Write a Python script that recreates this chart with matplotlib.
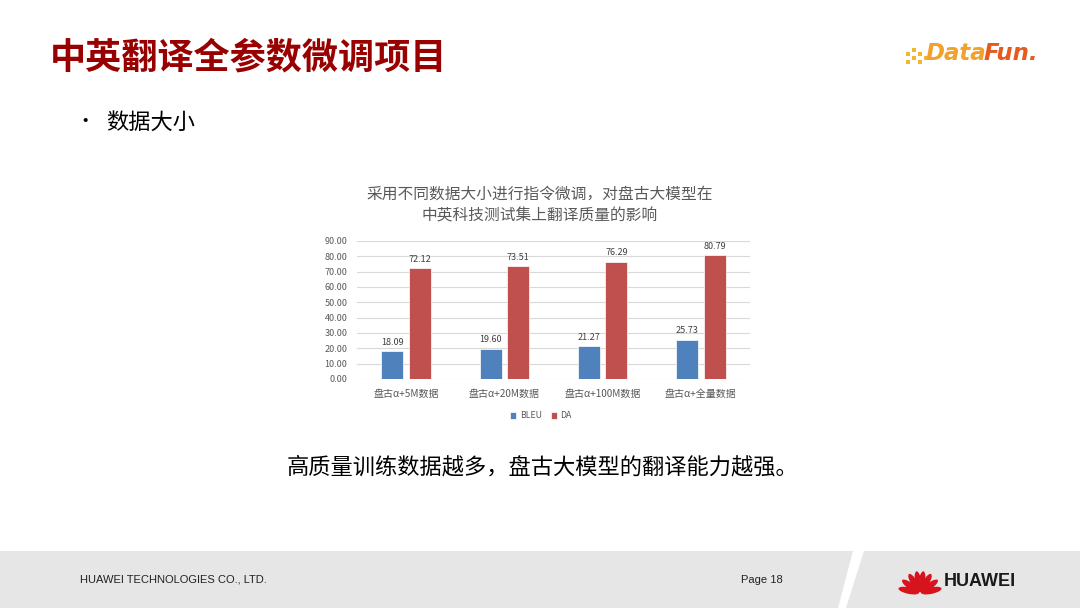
import matplotlib
matplotlib.use('Agg')
import matplotlib.pyplot as plt
from matplotlib.patches import Rectangle, Polygon, Ellipse
import numpy as np

plt.rcParams['font.family'] = ['Noto Sans CJK SC', 'DejaVu Sans']

# data
categories = ['盘古α+5M数据', '盘古α+20M数据', '盘古α+100M数据', '盘古α+全量数据']
bleu = [18.09, 19.60, 21.27, 25.73]
da = [72.12, 73.51, 76.29, 80.79]
series_names = ['BLEU', 'DA']
yticks = [0, 10, 20, 30, 40, 50, 60, 70, 80, 90]

BLUE = '#4F81BD'
RED = '#C0504D'
GRAY = '#595959'

fig = plt.figure(figsize=(10.8, 6.08), dpi=100)

# overlay in pixel coords for slide decoration
bg = fig.add_axes([0, 0, 1, 1])
bg.set_xlim(0, 1080)
bg.set_ylim(608, 0)
bg.axis('off')

# footer band
bg.add_patch(Rectangle((0, 551), 1080, 57, color='#E6E6E6', lw=0))
bg.add_patch(Polygon([(853, 551), (864, 551), (846, 608), (838, 608)], color='white', lw=0))

# huawei petals (fan opening upwards)
cx, cy = 920, 593
for ang in [-78, -54, -30, -9, 9, 30, 54, 78]:
    a = np.deg2rad(ang)
    r = 11.5
    ex = cx + r * np.sin(a)
    ey = cy - r * np.cos(a)
    bg.add_patch(Ellipse((ex, ey), 6.5, 21, angle=ang, color='#D7141E', lw=0))
bg.text(944, 581, 'HUAWEI', fontsize=13, fontweight='bold', color='#1A1A1A',
        va='center', ha='left', family=['Liberation Sans', 'DejaVu Sans'])

# datafun logo
for dx, dy in [(906, 52), (912, 48), (912, 56), (918, 52), (918, 60), (906, 60), (924, 56)]:
    bg.add_patch(Rectangle((dx, dy), 4, 4, color='#F3B630', lw=0))
t1 = bg.text(926, 54, 'Data', fontsize=16.5, fontweight='bold', style='italic', color='#F0A22C',
             va='center', ha='left', family=['DejaVu Sans'])
fig.canvas.draw()
bb = t1.get_window_extent(fig.canvas.get_renderer())
bg.text(926 + bb.width - 3, 54, 'Fun.', fontsize=16.5, fontweight='bold', style='italic', color='#E65A1E',
        va='center', ha='left', family=['DejaVu Sans'])

# slide texts
bg.text(50, 58, '中英翻译全参数微调项目', fontsize=26, fontweight='bold', color='#990000',
        va='center', ha='left')
bg.text(75, 122, '•', fontsize=14, color='black', va='center', ha='left')
bg.text(106, 122, '数据大小', fontsize=16, color='black', va='center', ha='left')
bg.text(543, 467, '高质量训练数据越多，盘古大模型的翻译能力越强。', fontsize=16,
        color='black', va='center', ha='center')
bg.text(80, 580, 'HUAWEI TECHNOLOGIES CO., LTD.', fontsize=8, color='#222222',
        va='center', ha='left', family=['Liberation Sans Narrow', 'Liberation Sans', 'DejaVu Sans'])
bg.text(741, 580, 'Page 18', fontsize=8, color='#222222',
        va='center', ha='left', family=['Liberation Sans Narrow', 'Liberation Sans', 'DejaVu Sans'])

# chart title
bg.text(540, 194, '采用不同数据大小进行指令微调，对盘古大模型在', fontsize=11.3, color=GRAY,
        va='center', ha='center')
bg.text(540, 216, '中英科技测试集上翻译质量的影响', fontsize=11.3, color=GRAY,
        va='center', ha='center')

# chart
ax = fig.add_axes([357 / 1080, 229 / 608, 393 / 1080, 138 / 608])
x = np.arange(len(categories))
w = 0.225
off = 0.14
b1 = ax.bar(x - off, bleu, w, color=BLUE, edgecolor='white', linewidth=0.5, label=series_names[0], zorder=3)
b2 = ax.bar(x + off, da, w, color=RED, edgecolor='white', linewidth=0.5, label=series_names[1], zorder=3)
for bars, vals in [(b1, bleu), (b2, da)]:
    for rect, v in zip(bars, vals):
        ax.text(rect.get_x() + rect.get_width() / 2, v + 3, f'{v:.2f}', ha='center', va='bottom',
                fontsize=6.5, color='#404040')
ax.set_xlim(-0.5, 3.5)
ax.set_ylim(0, 90)
ax.set_yticks(yticks)
ax.set_yticklabels([f'{t:.2f}' for t in yticks])
ax.set_xticks(x)
ax.set_xticklabels(categories)
ax.tick_params(axis='y', length=0, labelsize=6.5, colors=GRAY, pad=7)
ax.tick_params(axis='x', length=0, labelsize=7.2, colors=GRAY, pad=7)
ax.grid(axis='y', color='#D9D9D9', linewidth=0.8, zorder=0)
for s in ax.spines.values():
    s.set_visible(False)
ax.set_facecolor('none')

leg = fig.legend(handles=[b1, b2], labels=series_names, loc='center', bbox_to_anchor=(541 / 1080, 1 - 416 / 608),
                 ncol=2, frameon=False, fontsize=6.3, handlelength=0.7, handleheight=0.7,
                 columnspacing=1.0, handletextpad=0.4)
for t in leg.get_texts():
    t.set_color(GRAY)

fig.savefig('out.png', dpi=100)
